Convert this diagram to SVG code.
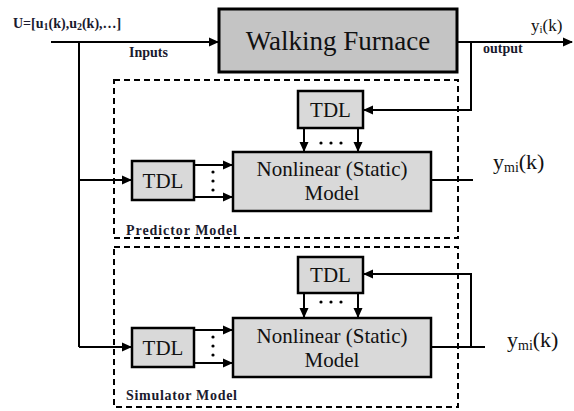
<svg xmlns="http://www.w3.org/2000/svg" width="574" height="411" viewBox="0 0 574 411">
<defs>
<marker id="ah" markerWidth="10" markerHeight="10" refX="9" refY="5" orient="auto" markerUnits="userSpaceOnUse">
<path d="M0,0.5 L10,5 L0,9.5 Z" fill="#000"/>
</marker>
<style>
.ln{stroke:#000;stroke-width:2;fill:none}
.box{fill:#d9d9d9;stroke:#000;stroke-width:2.5}
.dash{fill:none;stroke:#000;stroke-width:2;stroke-dasharray:6,4}
.t{font-family:"Liberation Serif","Times New Roman",serif;fill:#111}
.b{font-family:"Liberation Serif","Times New Roman",serif;font-weight:bold;fill:#1a1a2e}
.dot{fill:#000}
</style>
</defs>
<rect width="574" height="411" fill="#fff"/>

<g id="predictor-frame"><rect class="dash" x="114" y="80" width="344" height="158"/>
<text class="b" x="126" y="235" font-size="14" textLength="111">Predictor Model</text></g>
<g id="simulator-frame"><rect class="dash" x="114" y="247" width="344" height="160"/>
<text class="b" x="126" y="400" font-size="14" textLength="111">Simulator Model</text></g>

<g id="connectors">
<line class="ln" x1="51" y1="42" x2="218" y2="42" marker-end="url(#ah)"/>
<line class="ln" x1="79" y1="42" x2="79" y2="347"/>
<line class="ln" x1="457" y1="42" x2="572" y2="42" marker-end="url(#ah)"/>
<polyline class="ln" points="471,42 471,110 364,110" marker-end="url(#ah)"/>
<line class="ln" x1="79" y1="180" x2="131" y2="180" marker-end="url(#ah)"/>
<line class="ln" x1="79" y1="347" x2="131" y2="347" marker-end="url(#ah)"/>
<line class="ln" x1="194" y1="165" x2="232" y2="165" marker-end="url(#ah)"/>
<line class="ln" x1="194" y1="197" x2="232" y2="197" marker-end="url(#ah)"/>
<line class="ln" x1="194" y1="330" x2="232" y2="330" marker-end="url(#ah)"/>
<line class="ln" x1="194" y1="363" x2="232" y2="363" marker-end="url(#ah)"/>
<line class="ln" x1="304" y1="128" x2="304" y2="151" marker-end="url(#ah)"/>
<line class="ln" x1="358" y1="128" x2="358" y2="151" marker-end="url(#ah)"/>
<line class="ln" x1="304" y1="293" x2="304" y2="317" marker-end="url(#ah)"/>
<line class="ln" x1="358" y1="293" x2="358" y2="317" marker-end="url(#ah)"/>
<line class="ln" x1="431" y1="180" x2="473" y2="180"/>
<line class="ln" x1="431" y1="347" x2="485" y2="347"/>
<polyline class="ln" points="471,347 471,274 364,274" marker-end="url(#ah)"/>
<circle class="dot" cx="213" cy="172" r="1.6"/><circle class="dot" cx="213" cy="181" r="1.6"/><circle class="dot" cx="213" cy="190" r="1.6"/>
<circle class="dot" cx="213" cy="337" r="1.6"/><circle class="dot" cx="213" cy="346" r="1.6"/><circle class="dot" cx="213" cy="355" r="1.6"/>
<circle class="dot" cx="321" cy="143" r="1.6"/><circle class="dot" cx="331" cy="143" r="1.6"/><circle class="dot" cx="341" cy="143" r="1.6"/>
<circle class="dot" cx="321" cy="302" r="1.6"/><circle class="dot" cx="331" cy="302" r="1.6"/><circle class="dot" cx="341" cy="302" r="1.6"/>
</g>

<g id="furnace"><rect x="219" y="9" width="238" height="63" fill="#c4c4c4" stroke="#000" stroke-width="3"/>
<text class="t" x="338" y="50" font-size="27" text-anchor="middle">Walking Furnace</text></g>

<g id="tdl-pred-top"><rect class="box" x="298" y="91" width="65" height="37"/>
<text class="t" x="330.5" y="117" font-size="21" text-anchor="middle">TDL</text></g>
<g id="tdl-pred-left"><rect class="box" x="132" y="161" width="62" height="39"/>
<text class="t" x="163" y="188" font-size="21" text-anchor="middle">TDL</text></g>
<g id="nl-pred"><rect class="box" x="233" y="152" width="198" height="59"/>
<text class="t" x="332" y="176" font-size="21" text-anchor="middle">Nonlinear (Static)</text>
<text class="t" x="332" y="200" font-size="21" text-anchor="middle">Model</text></g>

<g id="tdl-sim-top"><rect class="box" x="298" y="257" width="65" height="36"/>
<text class="t" x="330.5" y="282" font-size="21" text-anchor="middle">TDL</text></g>
<g id="tdl-sim-left"><rect class="box" x="132" y="328" width="62" height="39"/>
<text class="t" x="163" y="355" font-size="21" text-anchor="middle">TDL</text></g>
<g id="nl-sim"><rect class="box" x="233" y="318" width="198" height="59"/>
<text class="t" x="332" y="343" font-size="21" text-anchor="middle">Nonlinear (Static)</text>
<text class="t" x="332" y="367" font-size="21" text-anchor="middle">Model</text></g>

<g id="labels">
<text class="b" x="13" y="28" font-size="14">U=[u<tspan font-size="10" dy="2">1</tspan><tspan dy="-2">(k),u</tspan><tspan font-size="10" dy="2">2</tspan><tspan dy="-2">(k),…]</tspan></text>
<text class="b" x="129" y="57" font-size="14">Inputs</text>
<text class="b" x="483" y="53" font-size="14">output</text>
<text class="t" x="531" y="31" font-size="17">y<tspan font-size="11" dy="2">i</tspan><tspan dy="-2">(k)</tspan></text>
<text class="t" x="493" y="169" font-size="22">y<tspan font-size="14" dy="3">mi</tspan><tspan dy="-3">(k)</tspan></text>
<text class="t" x="507" y="347" font-size="22">y<tspan font-size="14" dy="3">mi</tspan><tspan dy="-3">(k)</tspan></text>
</g>
</svg>
